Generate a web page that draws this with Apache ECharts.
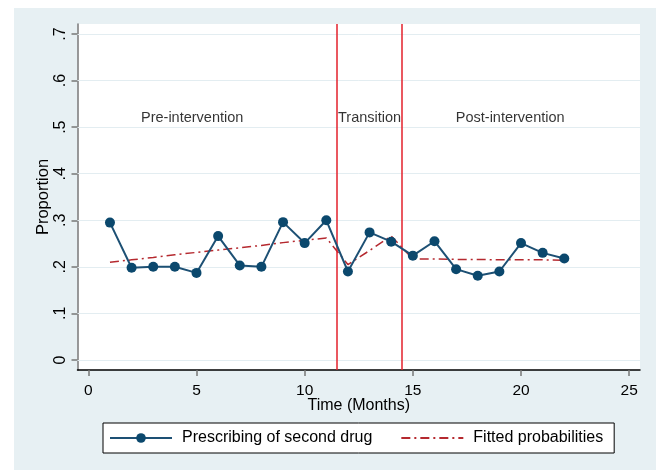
<!DOCTYPE html>
<html>
<head>
<meta charset="utf-8">
<script src="https://cdn.jsdelivr.net/npm/echarts@6/dist/echarts.min.js"></script>
<style>
html,body{margin:0;padding:0;background:#fff;}
#wrap{position:relative;width:656px;height:470px;background:#fff;}
#bg{position:absolute;left:14px;top:8px;width:642px;height:462px;background:#e7f0f3;}
#chart{position:absolute;left:0;top:0;width:656px;height:470px;}
</style>
</head>
<body>
<div id="wrap"><div id="bg"></div><div id="chart"></div></div>
<script>
const months = [1,2,3,4,5,6,7,8,9,10,11,12,13,14,15,16,17,18,19,20,21,22];
const prescribing = [0.295,0.198,0.200,0.200,0.187,0.266,0.203,0.200,0.296,0.251,0.300,0.190,0.274,0.254,0.224,0.255,0.195,0.181,0.190,0.251,0.230,0.218];
const fitted = [0.210,0.215,0.220,0.226,0.231,0.236,0.241,0.246,0.252,0.257,0.262,0.205,0.235,0.266,0.217,0.217,0.216,0.216,0.215,0.215,0.215,0.214];
const xTicks = [0,5,10,15,20,25];
const yTicks = [0,0.1,0.2,0.3,0.4,0.5,0.6,0.7];
const phaseBreaks = [11.5,14.5];
const annoX = [4.8,13,19.5];
const annoY = [0.52,0.52,0.52];
const annoText = ['Pre-intervention','Transition','Post-intervention'];

const FONT = "'Liberation Sans', Arial, Helvetica, sans-serif";
const chart = echarts.init(document.getElementById('chart'), null, {renderer:'canvas'});
const fmtY = v => {
  if (v === 0) return '0';
  return '.' + Math.round(v*10);
};
chart.setOption({
  backgroundColor: 'transparent',
  animation: false,
  grid: {left: 77.5, right: 16, top: 24, bottom: 100, show: true, backgroundColor: '#ffffff', borderWidth: 0},
  xAxis: {
    type: 'value', min: -0.5, max: 25.5,
    name: 'Time (Months)', nameLocation: 'middle', nameGap: 28, nameMoveOverlap: false,
    nameTextStyle: {fontFamily: FONT, fontSize: 16, color: '#000'},
    axisLine: {show: true, onZero: false, lineStyle: {color: '#000', width: 1.5}},
    axisTick: {show: true, length: 6, customValues: xTicks, lineStyle: {color: '#777', width: 1.5}},
    axisLabel: {customValues: xTicks, margin: 13, fontFamily: FONT, fontSize: 15.5, color: '#000'},
    splitLine: {show: false}
  },
  yAxis: {
    type: 'value', min: -0.0216, max: 0.7216,
    name: 'Proportion', nameLocation: 'middle', nameGap: 26, nameRotate: 90, nameMoveOverlap: false,
    nameTextStyle: {fontFamily: FONT, fontSize: 16.5, color: '#000'},
    axisLine: {show: true, onZero: false, lineStyle: {color: '#777', width: 1.5}},
    axisTick: {show: true, length: 6, customValues: yTicks, lineStyle: {color: '#777', width: 1.5}},
    axisLabel: {customValues: yTicks, rotate: 90, margin: 9, fontFamily: FONT, fontSize: 16, color: '#000', formatter: fmtY},
    splitLine: {show: false}
  },
  legend: {
    left: 103, top: 423,
    backgroundColor: '#fff', borderColor: '#000', borderWidth: 1,
    padding: [7, 11, 7, 6],
    itemWidth: 62, itemHeight: 12, itemGap: 28,
    textStyle: {fontFamily: FONT, fontSize: 16, color: '#000', padding: [0,0,0,5]},
    data: [
      {name: 'Prescribing of second drug'},
      {name: 'Fitted probabilities', itemStyle: {opacity: 0}}
    ]
  },
  series: [
    {
      name: 'gridlines', type: 'line', data: [], silent: true,
      markLine: {
        silent: true, symbol: 'none', label: {show: false},
        lineStyle: {color: '#e3edf1', width: 1, type: 'solid'},
        data: yTicks.map(v => ({yAxis: v}))
      }
    },
    {
      name: 'phases', type: 'line', data: [], silent: true,
      markLine: {
        silent: true, symbol: 'none', label: {show: false},
        lineStyle: {color: '#e3202b', width: 1.5, type: 'solid'},
        data: phaseBreaks.map(v => ({xAxis: v}))
      },
      z: 3
    },
    {
      name: 'Fitted probabilities', type: 'line',
      data: months.map((m,i) => [m, fitted[i]]),
      symbol: 'none', showSymbol: false,
      lineStyle: {color: '#b5292f', width: 1.5, type: [9,4,2,4]},
      itemStyle: {color: '#b5292f'},
      z: 4
    },
    {
      name: 'Prescribing of second drug', type: 'line',
      data: months.map((m,i) => [m, prescribing[i]]),
      symbol: 'circle', symbolSize: 10,
      lineStyle: {color: '#1d5074', width: 2},
      itemStyle: {color: '#0b486d'},
      z: 5
    },
    {
      name: 'annotations', type: 'scatter',
      data: annoX.map((x,i) => ({value: [x, annoY[i]], name: annoText[i]})),
      symbolSize: 0, silent: true,
      label: {show: true, position: 'inside', formatter: p => p.name, fontFamily: FONT, fontSize: 14.5, color: '#000'},
      z: 6
    }
  ]
});
</script>
</body>
</html>
